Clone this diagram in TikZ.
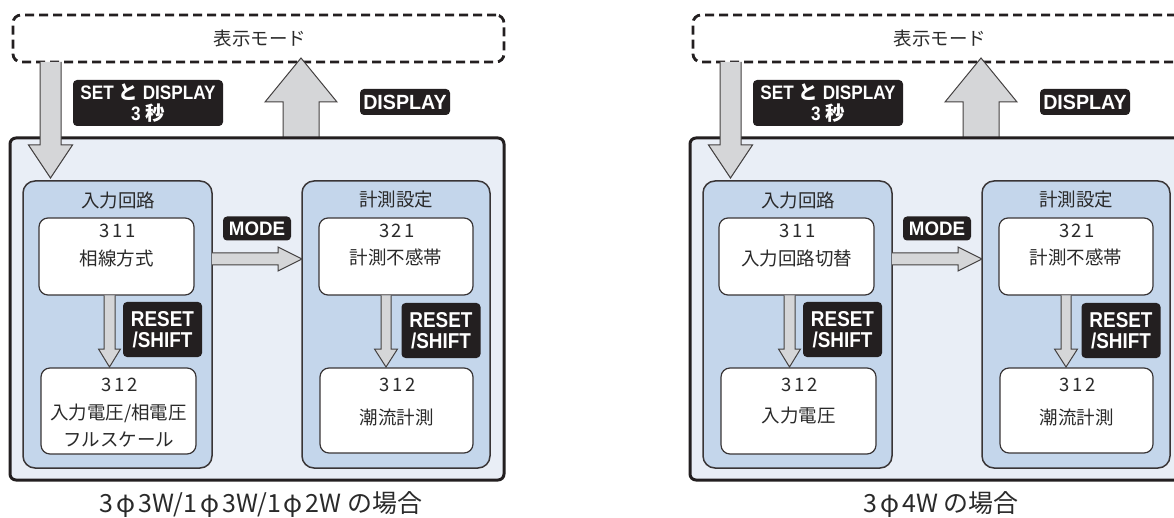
\documentclass[tikz,border=0pt]{standalone}
\usepackage{fontspec}
\setmainfont{Noto Sans CJK JP}
\newfontfamily\jpfont{Noto Sans CJK JP}
\newfontfamily\numfont{Noto Sans CJK JP}[LetterSpace=14]
\newfontfamily\lblfont{Liberation Sans}[FakeStretch=0.88]
\newfontfamily\lblwide{Liberation Sans}[FakeStretch=0.96]
\usetikzlibrary{fit}
\definecolor{outerfill}{HTML}{E9EEF6}
\definecolor{groupfill}{HTML}{C4D6EB}
\definecolor{arrowfill}{HTML}{D5D6D8}
\definecolor{ink}{HTML}{231F20}
\definecolor{txtc}{HTML}{2A2A2A}
\newcommand\vblock[6]{% x center, y start, y tip, shaft half, head half, head length (signed)
  \filldraw[blockarrow] ({#1-#4},#2) -- ({#1-#4},{#3-#6}) -- ({#1-#5},{#3-#6}) -- (#1,#3)
    -- ({#1+#5},{#3-#6}) -- ({#1+#4},{#3-#6}) -- ({#1+#4},#2);}
\newcommand\hblock[6]{% y center, x start, x tip, shaft half, head half, head length
  \filldraw[blockarrow] (#2,{#1-#4}) -- ({#3-#6},{#1-#4}) -- ({#3-#6},{#1-#5}) -- (#3,#1)
    -- ({#3-#6},{#1+#5}) -- ({#3-#6},{#1+#4}) -- (#2,{#1+#4});}
\newcommand\drawpanel[5]{%
  % dashed display-mode box
  \node[dashbox, fit={(13,15) (504,62)}] (disp) {};
  \node[txt] (disptxt) at (260,38) {表示モード};
  % up arrow (drawn before outer box)
  \vblock{301}{139}{58}{18}{36}{-44}
  % outer box
  \node[outerbox, fit={(10,138) (504,480)}] (outer) {};
  % groups
  \node[groupbox, fit={(23,181) (212,468)}] (g1) {};
  \node[groupbox, fit={(302,181) (490,468)}] (g2) {};
  \node[txt] (g1t) at (118,200) {入力回路};
  \node[txt] (g2t) at (396,200) {計測設定};
  % item boxes
  \node[itembox, fit={(39,218) (194,295)}] (b311) {};
  \node[itembox, fit={(41,368) (196,454)}] (b312) {};
  \node[itembox, fit={(319,218) (473,295)}] (b321) {};
  \node[itembox, fit={(320,368) (473,453)}] (b322) {};
  \node[num] (t311a) at (117.5,231) {311};
  \node[txt] (t311b) at (116.5,258) {#1};
  \node[num] (t312a) at (119.5,385) {312};
  #2
  \node[num] (t321a) at (397,231) {321};
  \node[txt] (t321b) at (396,257) {計測不感帯};
  \node[num] (t322a) at (397.5,385) {312};
  \node[txt] (t322b) at (396.5,#4) {潮流計測};
  % arrows
  \vblock{50.5}{62}{178}{10.5}{22}{33}
  \hblock{259}{212}{302}{6}{12}{24}
  \vblock{109.5}{295.5}{367}{5.5}{11}{18}
  \vblock{386}{295.5}{367}{5}{11.5}{18}
  % key labels
  \node[keylabel, font=\lblfont\bfseries\fontsize{19.5}{20.5}\selectfont, minimum width=150pt, minimum height=46pt] (kset) at (148,103)
     {SET {\jpfont\bfseries と} DISPLAY\\3 {\jpfont\bfseries 秒}};
  \node[keylabel, font=\lblwide\bfseries\fontsize{20.5}{22}\selectfont, minimum width=90pt, minimum height=26pt] (kdisp) at (405,102) {DISPLAY};
  \node[keylabel, font=\lblwide\bfseries\fontsize{19.5}{20}\selectfont, minimum width=68pt, minimum height=24pt] (kmode) at (257,228.5) {MODE};
  \node[keylabel, minimum width=79pt, minimum height=55pt] (kres1) at (162.5,329.5) {RESET\\/SHIFT};
  \node[keylabel, minimum width=79pt, minimum height=55pt] (kres2) at (441,330.5) {RESET\\/SHIFT};
  % caption
  \node[txt, font=\jpfont\fontsize{25}{28}\selectfont] (cap) at (261,505) {#5};
}
\newcommand\phis{\kern3pt φ\kern3pt}
\begin{document}
\begin{tikzpicture}[x=1pt,y=-1pt,
  dashbox/.style={draw=ink, line width=2.8pt, dash pattern=on 9pt off 5pt, rounded corners=8pt, inner sep=0pt, outer sep=0pt},
  outerbox/.style={draw=ink, line width=3pt, fill=outerfill, rounded corners=6pt, inner sep=0pt, outer sep=0pt},
  groupbox/.style={draw=ink!90, line width=1.5pt, fill=groupfill, rounded corners=12pt, inner sep=0pt, outer sep=0pt},
  itembox/.style={draw=ink!90, line width=1.2pt, fill=white, rounded corners=9pt, inner sep=0pt, outer sep=0pt},
  keylabel/.style={fill=ink, text=white, rounded corners=4pt, font=\lblfont\bfseries\fontsize{21.5}{21}\selectfont, align=center, inner sep=0pt},
  blockarrow/.style={fill=arrowfill, draw=ink!85, line width=1pt, line join=miter},
  txt/.style={text=txtc, font=\jpfont\fontsize{18.5}{22}\selectfont, inner sep=0pt},
  num/.style={text=txtc, font=\numfont\fontsize{18.5}{22}\selectfont, inner sep=0pt}]
\useasboundingbox (0,0) rectangle (1174,518);
\clip (0,0) rectangle (1174,518);
\fill[white] (0,0) rectangle (1174,518);
\begin{scope}[name prefix=L-]
\drawpanel{相線方式}{\node[txt] (t312b) at (118.5,413) {入力電圧/相電圧};
  \node[txt] (t312c) at (118.5,440) {フルスケール};}{}{417}{3\phis 3W/1\phis 3W/1\phis 2W の場合}
\end{scope}
\begin{scope}[xshift=680pt, name prefix=R-]
\drawpanel{入力回路切替}{\node[txt] (t312b) at (118.5,416) {入力電圧};}{}{417}{3\phis 4W の場合}
\end{scope}
\end{tikzpicture}
\end{document}
